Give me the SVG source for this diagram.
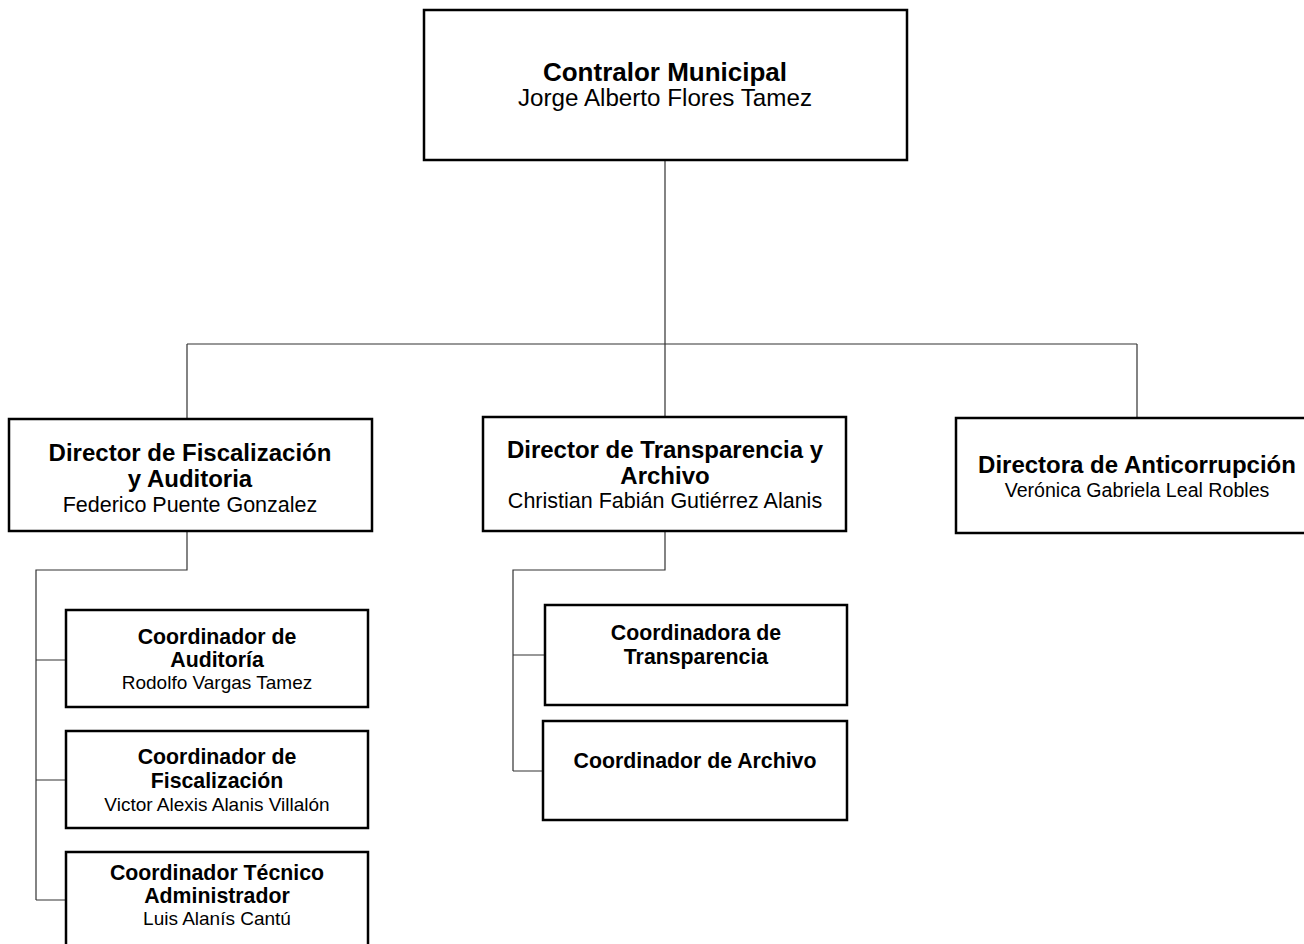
<svg xmlns="http://www.w3.org/2000/svg" width="1304" height="944" viewBox="0 0 1304 944">
<style>
.box{fill:#fff;stroke:#000;stroke-width:2.5}
.c{fill:none;stroke:#333;stroke-width:1.2}
text{font-family:"Liberation Sans",Arial,sans-serif;text-anchor:middle;fill:#000}
.t0{font-size:26px;font-weight:bold}
.n0{font-size:24.2px}
.t1{font-size:24px;font-weight:bold}
.n1{font-size:21.5px}
.n1r{font-size:19.6px}
.t2{font-size:21.3px;font-weight:bold}
.n2{font-size:19px}
</style>
<rect width="1304" height="944" fill="#fff"/>
<g id="connectors">
<path class="c" d="M665,160V344M187,344H1137M187,344V419M665,344V417M1137,344V418"/>
<path class="c" d="M187,531V570H36V900M36,660H66M36,780H66M36,900H66"/>
<path class="c" d="M665,531V570H513V771M513,655H545M513,771H543"/>
</g>
<g id="contralor">
<rect class="box" x="424" y="10" width="483" height="150"/>
<text class="t0" x="665" y="81">Contralor Municipal</text>
<text class="n0" x="665" y="106">Jorge Alberto Flores Tamez</text>
</g>
<g id="dir-fiscalizacion">
<rect class="box" x="9" y="419" width="363" height="112"/>
<text class="t1" x="190" y="461">Director de Fiscalización</text>
<text class="t1" x="190" y="487">y Auditoria</text>
<text class="n1" x="190" y="512">Federico Puente Gonzalez</text>
</g>
<g id="dir-transparencia">
<rect class="box" x="483" y="417" width="363" height="114"/>
<text class="t1" x="665" y="458">Director de Transparencia y</text>
<text class="t1" x="665" y="484">Archivo</text>
<text class="n1" x="665" y="508">Christian Fabián Gutiérrez Alanis</text>
</g>
<g id="dir-anticorrupcion">
<rect class="box" x="956" y="418" width="362" height="115"/>
<text class="t1" x="1137" y="473">Directora de Anticorrupción</text>
<text class="n1r" x="1137" y="497">Verónica Gabriela Leal Robles</text>
</g>
<g id="coord-auditoria">
<rect class="box" x="66" y="610" width="302" height="97"/>
<text class="t2" x="217" y="644">Coordinador de</text>
<text class="t2" x="217" y="667">Auditoría</text>
<text class="n2" x="217" y="689">Rodolfo Vargas Tamez</text>
</g>
<g id="coord-fiscalizacion">
<rect class="box" x="66" y="731" width="302" height="97"/>
<text class="t2" x="217" y="764">Coordinador de</text>
<text class="t2" x="217" y="788">Fiscalización</text>
<text class="n2" x="217" y="811">Victor Alexis Alanis Villalón</text>
</g>
<g id="coord-tecnico">
<rect class="box" x="66" y="852" width="302" height="110"/>
<text class="t2" x="217" y="880">Coordinador Técnico</text>
<text class="t2" x="217" y="903">Administrador</text>
<text class="n2" x="217" y="925">Luis Alanís Cantú</text>
</g>
<g id="coord-transparencia">
<rect class="box" x="545" y="605" width="302" height="100"/>
<text class="t2" x="696" y="640">Coordinadora de</text>
<text class="t2" x="696" y="664">Transparencia</text>
</g>
<g id="coord-archivo">
<rect class="box" x="543" y="721" width="304" height="99"/>
<text class="t2" x="695" y="768">Coordinador de Archivo</text>
</g>
</svg>
